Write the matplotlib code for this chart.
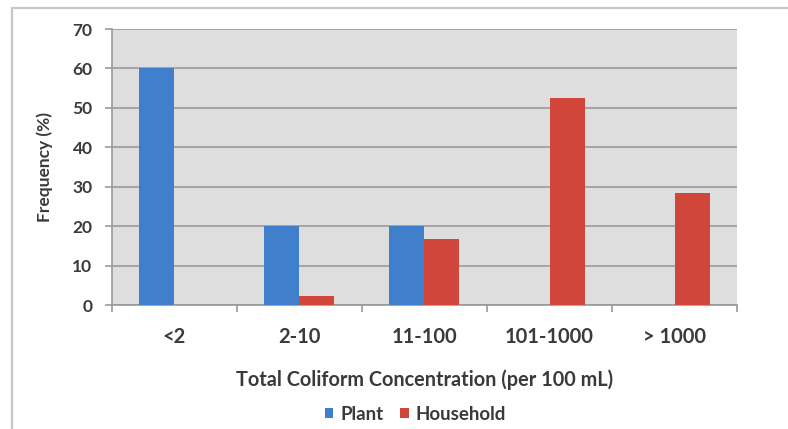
import matplotlib
matplotlib.use("Agg")
import matplotlib.pyplot as plt
import matplotlib.patches as mpatches
import numpy as np

categories = ["<2", "2-10", "11-100", "101-1000", "> 1000"]
plant = [60, 20, 20, 0, 0]
household = [0, 2.3, 16.8, 52.5, 28.4]
yticks = [0, 10, 20, 30, 40, 50, 60, 70]

plt.rcParams['font.family'] = ['Lato', 'DejaVu Sans']
TXT = "#3a3a3a"

fig = plt.figure(figsize=(7.88, 4.29), dpi=100)
ax = fig.add_axes([0.1421, 0.289, 0.7932, 0.6434])

frame = mpatches.Rectangle((12/788, -0.1), 1.2, 0.981 + 0.1, transform=fig.transFigure,
                           fill=False, edgecolor="#c8c8c8", linewidth=1.6, zorder=-1)
fig.patches.append(frame)

ax.set_facecolor("#dedede")
x = np.arange(len(categories))
w = 0.28
ax.bar(x - w/2, plant, width=w, color="#3f7fcc", label="Plant", zorder=3)
ax.bar(x + w/2, household, width=w, color="#d1463b", label="Household", zorder=3)

ax.set_xlim(-0.5, len(categories) - 0.5)
ax.set_ylim(0, 70)
ax.set_yticks(yticks)
ax.set_yticklabels([str(t) for t in yticks], fontsize=12.5, fontweight="bold", color=TXT)
ax.yaxis.grid(True, color="#9a9a9a", linewidth=1.2, zorder=0)
ax.set_axisbelow(True)

ax.set_xticks(x)
ax.set_xticklabels(categories, fontsize=14.5, fontweight="bold", color=TXT)
ax.tick_params(axis="x", length=0, pad=16)
ax.set_xticks(np.arange(-0.5, len(categories)), minor=True)
ax.tick_params(axis="x", which="minor", length=5, color="#9a9a9a", width=1.2)
ax.tick_params(axis="y", length=5, color="#9a9a9a", width=1.2, pad=9)

for s in ["top", "right"]:
    ax.spines[s].set_visible(False)
for s in ["left", "bottom"]:
    ax.spines[s].set_color("#9a9a9a")
    ax.spines[s].set_linewidth(1.2)

ax.set_ylabel("Frequency (%)", fontsize=12.5, fontweight="bold", color=TXT, labelpad=14)
ax.set_xlabel("Total Coliform Concentration (per 100 mL)", fontsize=14.3, fontweight="bold",
              color=TXT, labelpad=16)

leg = fig.legend(loc="center", bbox_to_anchor=(0.527, 1 - 414/429), ncol=2, frameon=False,
                 handlelength=0.45, handleheight=0.45, handletextpad=0.35,
                 columnspacing=0.9, prop={"weight": "bold", "size": 13.5})
for t in leg.get_texts():
    t.set_color(TXT)

fig.savefig("out.png", dpi=100)
